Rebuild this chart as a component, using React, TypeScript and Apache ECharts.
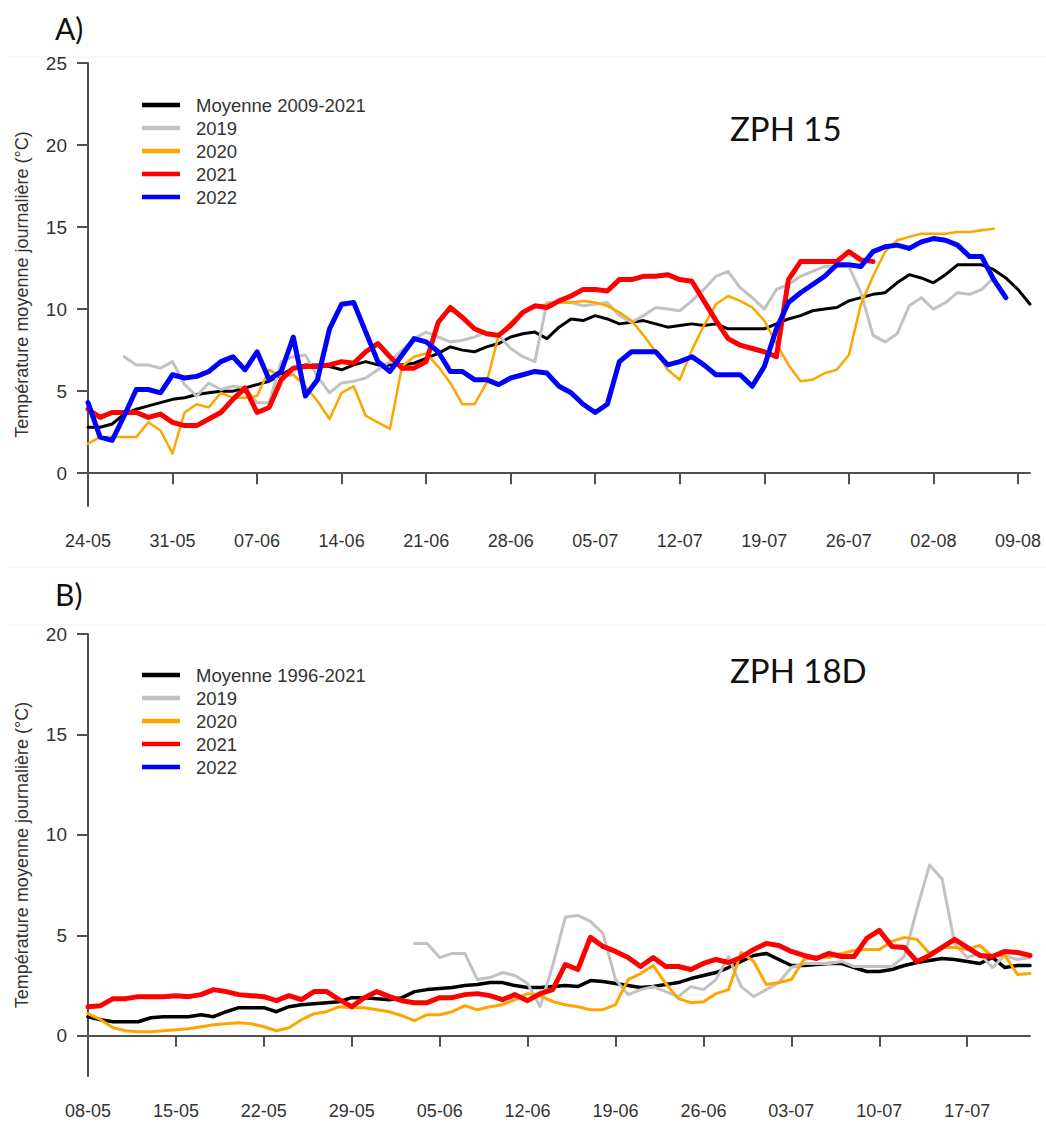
import React, { useEffect, useRef } from "react";
import * as echarts from "echarts";

// ---------- Panel A : ZPH 15 (daily values from 24-05) ----------
const startA = { month: 5, day: 24, count: 79 };
const meanA = [2.8, 2.8, 3.0, 3.6, 3.9, 4.1, 4.3, 4.5, 4.6, 4.8, 4.9, 5.0, 5.0, 5.2, 5.4, 5.6, 6.0, 6.4, 6.6, 6.6, 6.5, 6.3, 6.6, 6.8, 6.6, 6.6, 6.6, 6.7, 7.0, 7.3, 7.7, 7.5, 7.4, 7.7, 7.9, 8.3, 8.5, 8.6, 8.2, 8.9, 9.4, 9.3, 9.6, 9.4, 9.1, 9.2, 9.3, 9.1, 8.9, 9.0, 9.1, 9.0, 9.1, 8.8, 8.8, 8.8, 8.8, 9.1, 9.4, 9.6, 9.9, 10.0, 10.1, 10.5, 10.7, 10.9, 11.0, 11.6, 12.1, 11.9, 11.6, 12.1, 12.7, 12.7, 12.7, 12.4, 11.9, 11.2, 10.3];
const y2019A = [null, null, null, 7.1, 6.6, 6.6, 6.4, 6.8, 5.4, 4.7, 5.5, 5.1, 5.3, 5.2, 4.3, 4.3, 6.8, 7.1, 7.2, 5.9, 4.9, 5.5, 5.6, 5.8, 6.3, 6.8, 7.5, 8.2, 8.6, 8.3, 8.0, 8.1, 8.3, 8.6, 8.4, 7.6, 7.1, 6.8, 10.4, 10.4, 10.4, 10.2, 10.3, 10.4, 9.6, 9.2, 9.6, 10.1, 10.0, 9.9, 10.5, 11.2, 12.0, 12.3, 11.3, 10.7, 10.0, 11.2, 11.5, 12.0, 12.3, 12.6, 12.6, 12.6, 11.0, 8.4, 8.0, 8.5, 10.2, 10.7, 10.0, 10.4, 11.0, 10.9, 11.2, 11.9];
const y2020A = [1.8, 2.2, 2.2, 2.2, 2.2, 3.1, 2.6, 1.2, 3.7, 4.2, 4.0, 4.9, 4.6, 4.6, 4.7, 6.3, 5.9, 6.0, 5.3, 4.4, 3.3, 4.9, 5.3, 3.5, 3.1, 2.7, 6.5, 7.1, 7.3, 6.5, 5.5, 4.2, 4.2, 5.5, 8.4, 9.2, 9.8, 10.1, 10.3, 10.4, 10.4, 10.5, 10.4, 10.2, 9.8, 9.3, 8.4, 7.4, 6.3, 5.7, 7.5, 9.0, 10.3, 10.8, 10.5, 10.1, 9.3, 7.9, 6.6, 5.6, 5.7, 6.1, 6.3, 7.2, 10.3, 12.0, 13.5, 14.2, 14.4, 14.6, 14.6, 14.6, 14.7, 14.7, 14.8, 14.9];
const y2021A = [3.9, 3.4, 3.7, 3.7, 3.7, 3.4, 3.6, 3.1, 2.9, 2.9, 3.3, 3.7, 4.5, 5.2, 3.7, 4.0, 5.7, 6.4, 6.5, 6.5, 6.6, 6.8, 6.7, 7.4, 7.9, 7.1, 6.4, 6.4, 6.8, 9.2, 10.1, 9.5, 8.8, 8.5, 8.4, 9.0, 9.8, 10.2, 10.1, 10.5, 10.8, 11.2, 11.2, 11.1, 11.8, 11.8, 12.0, 12.0, 12.1, 11.8, 11.7, 10.5, 9.3, 8.2, 7.8, 7.6, 7.4, 7.1, 11.8, 12.9, 12.9, 12.9, 12.9, 13.5, 13.0, 12.9];
const y2022A = [4.3, 2.2, 2.0, 3.5, 5.1, 5.1, 4.9, 6.0, 5.8, 5.9, 6.2, 6.8, 7.1, 6.3, 7.4, 5.7, 6.2, 8.3, 4.7, 5.7, 8.8, 10.3, 10.4, 8.6, 6.8, 6.2, 7.2, 8.2, 8.0, 7.4, 6.2, 6.2, 5.7, 5.7, 5.4, 5.8, 6.0, 6.2, 6.1, 5.3, 4.9, 4.2, 3.7, 4.2, 6.8, 7.4, 7.4, 7.4, 6.6, 6.8, 7.1, 6.6, 6.0, 6.0, 6.0, 5.3, 6.5, 8.8, 10.4, 11.0, 11.5, 12.0, 12.7, 12.7, 12.6, 13.5, 13.8, 13.9, 13.7, 14.1, 14.3, 14.2, 13.9, 13.2, 13.2, 11.8, 10.7];
const yTicksA = [0, 5, 10, 15, 20, 25];

// ---------- Panel B : ZPH 18D (daily values from 08-05) ----------
const startB = { month: 5, day: 8, count: 76 };
const meanB = [0.95, 0.8, 0.7, 0.7, 0.7, 0.9, 0.95, 0.95, 0.95, 1.05, 0.95, 1.2, 1.4, 1.4, 1.4, 1.2, 1.45, 1.55, 1.6, 1.65, 1.7, 1.9, 1.9, 1.85, 1.8, 1.9, 2.2, 2.3, 2.35, 2.4, 2.5, 2.55, 2.65, 2.65, 2.5, 2.4, 2.4, 2.45, 2.5, 2.45, 2.75, 2.7, 2.6, 2.5, 2.4, 2.45, 2.55, 2.65, 2.85, 3.0, 3.15, 3.4, 3.7, 4.0, 4.1, 3.8, 3.5, 3.5, 3.55, 3.6, 3.6, 3.4, 3.2, 3.2, 3.3, 3.5, 3.65, 3.75, 3.85, 3.8, 3.7, 3.6, 3.9, 3.4, 3.5, 3.5];
const y2019B = [null, null, null, null, null, null, null, null, null, null, null, null, null, null, null, null, null, null, null, null, null, null, null, null, null, null, 4.6, 4.6, 3.9, 4.1, 4.1, 2.8, 2.9, 3.15, 3.0, 2.6, 1.45, 3.5, 5.9, 6.0, 5.7, 5.1, 2.8, 2.05, 2.3, 2.45, 2.2, 1.95, 2.45, 2.3, 2.8, 3.95, 2.45, 1.95, 2.3, 2.65, 3.4, 3.6, 3.6, 3.6, 3.7, 3.45, 3.45, 3.45, 3.45, 3.95, 6.3, 8.5, 7.8, 4.6, 3.9, 4.1, 3.4, 4.0, 3.8, 3.9];
const y2020B = [1.1, 0.8, 0.4, 0.25, 0.2, 0.2, 0.25, 0.3, 0.35, 0.45, 0.55, 0.6, 0.65, 0.6, 0.45, 0.25, 0.4, 0.8, 1.1, 1.2, 1.45, 1.4, 1.4, 1.3, 1.2, 1.0, 0.75, 1.05, 1.05, 1.2, 1.5, 1.3, 1.45, 1.55, 1.8, 2.1, 2.0, 1.7, 1.55, 1.45, 1.3, 1.3, 1.55, 2.8, 3.1, 3.5, 2.6, 1.85, 1.65, 1.7, 2.1, 2.3, 4.15, 3.7, 2.55, 2.65, 2.8, 3.8, 3.95, 3.9, 4.1, 4.25, 4.3, 4.3, 4.7, 4.9, 4.8, 4.1, 4.4, 4.4, 4.3, 4.5, 3.95, 4.0, 3.05, 3.1];
const y2021B = [1.45, 1.5, 1.85, 1.85, 1.95, 1.95, 1.95, 2.0, 1.95, 2.05, 2.3, 2.2, 2.05, 2.0, 1.95, 1.75, 2.0, 1.8, 2.2, 2.2, 1.8, 1.45, 1.9, 2.2, 1.95, 1.75, 1.65, 1.65, 1.9, 1.9, 2.05, 2.1, 2.0, 1.8, 2.05, 1.75, 2.1, 2.3, 3.55, 3.3, 4.9, 4.45, 4.2, 3.9, 3.45, 3.9, 3.45, 3.45, 3.3, 3.6, 3.8, 3.65, 3.9, 4.3, 4.6, 4.5, 4.2, 4.0, 3.85, 4.1, 3.95, 3.95, 4.85, 5.25, 4.45, 4.4, 3.7, 4.0, 4.4, 4.8, 4.4, 4.0, 3.95, 4.2, 4.15, 4.0];
const y2022B: (number | null)[] = [];
const yTicksB = [0, 5, 10, 15, 20];

const legendNamesA = ["Moyenne 2009-2021", "2019", "2020", "2021", "2022"];
const legendNamesB = ["Moyenne 1996-2021", "2019", "2020", "2021", "2022"];
const colors = ["#000000", "#c2c2c2", "#ffa500", "#ff0000", "#0000ff"];

function makeDays(s: { month: number; day: number; count: number }) {
  const out: string[] = [];
  for (let i = 0; i < s.count; i++) {
    const d = new Date(Date.UTC(2022, s.month - 1, s.day + i));
    const dd = String(d.getUTCDate()).padStart(2, "0");
    const mm = String(d.getUTCMonth() + 1).padStart(2, "0");
    out.push(dd + "-" + mm);
  }
  return out;
}

const FONT = "'Liberation Sans', Arial, sans-serif";
const TITLE_FONT = "Lato, 'Liberation Sans', sans-serif";
const AXIS_COLOR = "#505050";

export default function App() {
  const ref = useRef<HTMLDivElement>(null);
  useEffect(() => {
    document.body.style.margin = "0";
    if (!ref.current) return;
    const chart = echarts.init(ref.current, undefined, { renderer: "svg" });
    const daysA = makeDays(startA);
    const daysB = makeDays(startB);

    const xAxisCommon = (data: string[], gridIndex: number) => ({
      type: "category",
      gridIndex,
      data,
      boundaryGap: false,
      axisLine: { lineStyle: { color: AXIS_COLOR, width: 2 } },
      axisTick: { interval: 6, length: 11, lineStyle: { color: AXIS_COLOR, width: 2 } },
      axisLabel: { interval: 6, margin: 26, color: "#333", fontSize: 18, fontFamily: FONT },
      splitLine: { show: false },
    });
    const yAxisCommon = (max: number, ticks: number[], gridIndex: number) => ({
      type: "value",
      gridIndex,
      min: -2,
      max,
      name: "Température moyenne journalière (°C)",
      nameLocation: "middle",
      nameGap: 57,
      nameTextStyle: { color: "#333", fontSize: 18, fontFamily: FONT },
      axisLine: { show: true, lineStyle: { color: AXIS_COLOR, width: 2 } },
      axisTick: { show: true, length: 11, customValues: ticks, lineStyle: { color: AXIS_COLOR, width: 2 } },
      axisLabel: { customValues: ticks, margin: 21, color: "#333", fontSize: 19, fontFamily: FONT },
      splitLine: { show: false },
    });

    const mk = (name: string, data: any[], color: string, width: number, idx: number, z: number) => ({
      type: "line",
      name,
      data,
      xAxisIndex: idx,
      yAxisIndex: idx,
      symbol: "none",
      connectNulls: false,
      lineStyle: { color, width, join: "round", cap: "round" },
      itemStyle: { color },
      z,
    });

    const legendGraphic = (names: string[], top: number) => {
      const els: any[] = [];
      names.forEach((n, i) => {
        const y = top + i * 23;
        els.push({ type: "line", shape: { x1: 142, y1: y, x2: 180, y2: y }, style: { stroke: colors[i], lineWidth: 4.5 }, silent: true });
        els.push({ type: "text", x: 196, y, style: { text: n, fill: "#333", font: "18.5px " + FONT, textVerticalAlign: "middle" } });
      });
      return els;
    };

    chart.setOption({
      animation: false,
      backgroundColor: "#ffffff",
      grid: [
        { left: 88, top: 63, width: 942, height: 443 },
        { left: 88, top: 634, width: 942, height: 442 },
      ],
      xAxis: [xAxisCommon(daysA, 0), xAxisCommon(daysB, 1)],
      yAxis: [yAxisCommon(25, yTicksA, 0), yAxisCommon(20, yTicksB, 1)],
      series: [
        mk("Moyenne 2009-2021", meanA, colors[0], 3, 0, 2),
        mk("2019", y2019A, colors[1], 3, 0, 3),
        mk("2020", y2020A, colors[2], 2.5, 0, 4),
        mk("2021", y2021A, colors[3], 5, 0, 5),
        mk("2022", y2022A, colors[4], 5, 0, 6),
        mk("Moyenne 1996-2021", meanB, colors[0], 3.5, 1, 2),
        mk("2019", y2019B, colors[1], 3, 1, 3),
        mk("2020", y2020B, colors[2], 3, 1, 4),
        mk("2021", y2021B, colors[3], 5, 1, 5),
        mk("2022", y2022B, colors[4], 5, 1, 6),
      ],
      graphic: [
        { type: "line", shape: { x1: 8, y1: 57, x2: 1046, y2: 57 }, style: { stroke: "#eeeeee", lineWidth: 1 }, silent: true },
        { type: "line", shape: { x1: 8, y1: 567, x2: 1046, y2: 567 }, style: { stroke: "#f2f2f2", lineWidth: 1 }, silent: true },
        { type: "line", shape: { x1: 8, y1: 625, x2: 1046, y2: 625 }, style: { stroke: "#f0f0f0", lineWidth: 1 }, silent: true },
        { type: "text", x: 55, y: 28, style: { text: "A)", fill: "#111", font: "30px " + TITLE_FONT, textVerticalAlign: "middle" } },
        { type: "text", x: 55, y: 594, style: { text: "B)", fill: "#111", font: "30px " + TITLE_FONT, textVerticalAlign: "middle" } },
        { type: "text", x: 730, y: 128, style: { text: "ZPH 15", fill: "#111", font: "33px " + TITLE_FONT, textVerticalAlign: "middle" } },
        { type: "text", x: 730, y: 670, style: { text: "ZPH 18D", fill: "#111", font: "33px " + TITLE_FONT, textVerticalAlign: "middle" } },
        ...legendGraphic(legendNamesA, 105),
        ...legendGraphic(legendNamesB, 675),
      ],
    });
    return () => chart.dispose();
  }, []);
  return <div ref={ref} style={{ width: 1046, height: 1122 }} />;
}
